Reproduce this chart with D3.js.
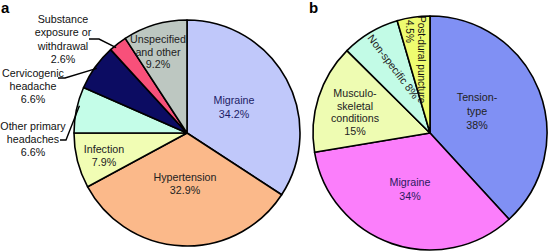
<!DOCTYPE html>
<html>
<head>
<meta charset="utf-8">
<script src="https://cdn.jsdelivr.net/npm/d3@7"></script>
<style>
  body { margin: 0; background: #fff; }
  svg text { font-family: "Liberation Sans", Arial, sans-serif; }
</style>
</head>
<body>
<div id="chart"></div>
<script>
// Donnees panneau a
const catA = ["Migraine", "Hypertension", "Infection", "Other primary headaches",
    "Cervicogenic headache", "Substance exposure or withdrawal", "Unspecified and other"];
const valA = [34.2, 32.9, 7.9, 6.6, 6.6, 2.6, 9.2];
const colA = ["#c0c8fa", "#fbb98a", "#f1fdb4", "#c4fde8", "#0c0c62", "#f8507a", "#bdc7c1"];

// Donnees panneau b
const catB = ["Tension-type", "Migraine", "Musculoskeletal conditions", "Non-specific", "Post-dural puncture"];
const valB = [38, 34, 15, 8, 4.5];
const colB = ["#8090f4", "#fb7efb", "#eefcb2", "#c2fbe6", "#eefc70"];

const width = 550, height = 252;
const svg = d3.select("#chart").append("svg")
    .attr("width", width).attr("height", height);

const pie = d3.pie().sort(null).value(d => d);

function drawPie(vals, cols, cx, cy, r) {
    const g = svg.append("g").attr("transform", `translate(${cx},${cy})`);
    const arc = d3.arc().innerRadius(0).outerRadius(r);
    const arcs = pie(vals);
    g.selectAll("path").data(arcs).join("path")
        .attr("d", arc)
        .attr("fill", (d, i) => cols[i])
        .attr("stroke", "#000")
        .attr("stroke-width", 1.6)
        .attr("stroke-linejoin", "round");
    return {g, arcs, r};
}

function label(g, x, y, lines, color, dy) {
    const t = g.append("text")
        .attr("text-anchor", "middle")
        .attr("font-size", 10.7)
        .attr("fill", color || "#111");
    lines.forEach((l, i) => {
        t.append("tspan").attr("x", x).attr("y", y + i * (dy || 13)).text(l);
    });
    return t;
}

// Panneau a
const pa = drawPie(valA, colA, 187, 133, 113);
const ga = svg.append("g");
label(ga, 234, 104, ["Migraine", "34.2%"], "#1c1c66", 14);
label(ga, 185, 181, ["Hypertension", "32.9%"], "#222", 13);
label(ga, 104, 153, ["Infection", "7.9%"], "#222", 12.5);
label(ga, 158, 43, ["Unspecified", "and other", "9.2%"], "#222", 12.5);
label(ga, 63, 23, ["Substance", "exposure or", "withdrawal", "2.6%"], "#111", 13.3);
label(ga, 33, 77, ["Cervicogenic", "headache", "6.6%"], "#111", 13);
label(ga, 33, 130, ["Other primary", "headaches", "6.6%"], "#111", 13);

// lignes de rappel : du texte vers le bord de la part
function leader(p, idx, frac, x0, x1, y0) {
    const a = p.arcs[idx];
    const ang = a.startAngle + (a.endAngle - a.startAngle) * frac;
    const ex = 187 + Math.sin(ang) * (p.r - 2);
    const ey = 133 - Math.cos(ang) * (p.r - 2);
    ga.append("path")
        .attr("d", d3.line()([[x0, y0], [x1, y0], [ex, ey]]))
        .attr("fill", "none")
        .attr("stroke", "#000")
        .attr("stroke-width", 1.4);
}
leader(pa, 5, 0.3, 89, 99, 39);
leader(pa, 4, 0.5, 58, 65, 78);
leader(pa, 3, 0.6, 60, 66, 140);

// Panneau b
const pb = drawPie(valB, colB, 430, 133, 117);
const gb = svg.append("g");
label(gb, 477, 101, ["Tension-", "type", "38%"], "#222", 14);
label(gb, 410, 186, ["Migraine", "34%"], "#2a1a60", 14);
label(gb, 355, 97, ["Musculo-", "skeletal", "conditions", "15%"], "#222", 12.7);

gb.append("text")
    .attr("transform", "translate(367,38) rotate(53)")
    .attr("font-size", 10.7)
    .attr("fill", "#222")
    .text("Non-specific 8%");

const pd = gb.append("text")
    .attr("transform", "translate(418,16) rotate(90)")
    .attr("font-size", 10)
    .attr("fill", "#111");
pd.append("tspan").attr("x", 0).attr("y", 0).text("Post-dural puncture");
pd.append("tspan").attr("x", 4).attr("y", 12).text("4.5%");

// Lettres des panneaux
svg.append("text").attr("x", 1).attr("y", 13)
    .attr("font-size", 15).attr("font-weight", "bold").text("a");
svg.append("text").attr("x", 309).attr("y", 13)
    .attr("font-size", 15).attr("font-weight", "bold").text("b");
</script>
</body>
</html>
